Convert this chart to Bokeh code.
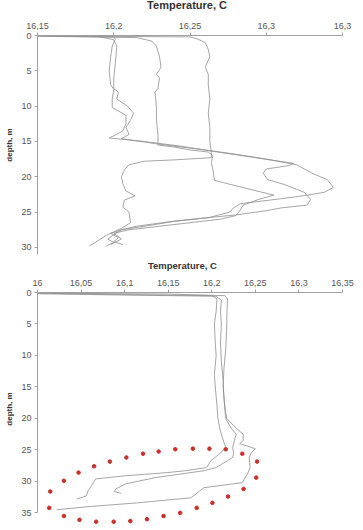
from bokeh.plotting import figure
from bokeh.layouts import column
from bokeh.models import Range1d, FixedTicker, Label
from bokeh.embed import file_html
from bokeh.resources import INLINE

# ---------------- data: top chart (temperature C, depth m) ----------------
top_t1_temp = [16.15, 16.20, 16.201, 16.199, 16.198, 16.197, 16.198, 16.200, 16.199, 16.199, 16.204, 16.208,
               16.208, 16.206, 16.200, 16.197, 16.220, 16.245, 16.262, 16.290, 16.318, 16.315, 16.300, 16.298,
               16.301, 16.312, 16.325, 16.329, 16.327, 16.310, 16.300, 16.280, 16.256, 16.235, 16.215, 16.205,
               16.198, 16.203, 16.200, 16.206]
top_t1_depth = [0.05, 0.2, 0.5, 1.5, 3, 5, 7, 7.6, 9, 10.2, 10.8, 11.3,
                12.5, 13.5, 14.2, 14.5, 15, 15.7, 16.3, 17.2, 18.1, 18.4, 18.9, 19.5,
                20.4, 21.1, 22.2, 23.2, 24, 24.4, 24.8, 25.4, 25.9, 26.4, 27, 27.5,
                28, 28.6, 29.2, 29.6]

top_t2_temp = [16.19, 16.200, 16.202, 16.201, 16.200, 16.200, 16.203, 16.202, 16.209, 16.213, 16.211, 16.208,
               16.210, 16.205, 16.230, 16.260, 16.280, 16.300, 16.320, 16.330, 16.340, 16.344, 16.338, 16.327,
               16.310, 16.283, 16.278, 16.276, 16.262, 16.240, 16.220, 16.205, 16.200, 16.196, 16.200, 16.195]
top_t2_depth = [0.15, 0.6, 1.5, 4, 6, 7.5, 8, 9, 10, 11, 12, 13,
                14, 14.6, 15.4, 16.2, 16.8, 17.5, 18.3, 19.5, 20.4, 21.5, 22.2, 22.6,
                23.1, 23.8, 24.5, 25, 25.8, 26.3, 27, 27.5, 28.2, 28.8, 29.3, 29.8]

top_t3_temp = [16.15, 16.215, 16.225, 16.228, 16.230, 16.231, 16.228, 16.230, 16.229, 16.227, 16.228, 16.228,
               16.229, 16.229, 16.240, 16.250, 16.262, 16.265, 16.264, 16.265, 16.266, 16.275, 16.290, 16.305,
               16.295, 16.285, 16.282, 16.280, 16.270, 16.250, 16.230, 16.210, 16.200, 16.205, 16.198]
top_t3_depth = [0.1, 0.3, 0.8, 1.5, 3, 4.5, 5.5, 6, 7.5, 8, 10, 12,
                14, 15.5, 15.8, 16.2, 16.5, 17, 18, 19, 20.5, 21, 21.8, 22.6,
                23.2, 24, 25, 25.5, 26, 26.5, 27, 27.5, 28, 28.8, 29.6]

top_t4_temp = [16.15, 16.250, 16.255, 16.260, 16.262, 16.263, 16.260, 16.262, 16.262, 16.263, 16.262, 16.263,
               16.263, 16.264, 16.264, 16.240, 16.220, 16.210, 16.207, 16.205, 16.206, 16.208, 16.214, 16.207,
               16.206, 16.210, 16.211, 16.205, 16.200, 16.195, 16.190, 16.184]
top_t4_depth = [0.05, 0.2, 0.5, 1, 2, 3, 4.5, 5.5, 7, 9, 11, 13,
                15, 16.5, 17.3, 17.6, 17.8, 18.3, 19, 20, 21, 22, 22.7, 23.3,
                24.3, 25, 26.5, 27.3, 27.8, 28.3, 29, 29.8]

# ---------------- data: bottom chart ----------------
bot_b1_temp = [16.0, 16.08, 16.200, 16.206, 16.205, 16.203, 16.204, 16.205, 16.203, 16.204, 16.206, 16.207,
               16.209, 16.212, 16.216, 16.210, 16.199, 16.194, 16.170, 16.149, 16.101, 16.067, 16.064, 16.062,
               16.058, 16.056, 16.045]
bot_b1_depth = [0.1, 0.3, 0.5, 1, 3, 5, 8, 10, 13, 15, 18, 20,
                21.5, 23, 24.6, 25.5, 26.7, 27.8, 28.3, 28.6, 29.1, 29.6, 30.2, 30.7,
                31.5, 32.3, 32.8]

bot_b2_temp = [16.0, 16.1, 16.205, 16.211, 16.210, 16.211, 16.210, 16.211, 16.213, 16.214, 16.216, 16.222,
               16.228, 16.226, 16.224, 16.225, 16.224, 16.205, 16.191, 16.135, 16.101, 16.090, 16.088, 16.093,
               16.096]
bot_b2_depth = [0.2, 0.4, 0.6, 1.2, 3, 5, 8, 11, 14, 17, 20, 21.5,
                22.5, 23.5, 24.6, 25.5, 26.2, 27.8, 28.3, 29.4, 30.4, 31.2, 31.6, 31.8,
                31.9]

bot_b3_temp = [16.0, 16.15, 16.215, 16.218, 16.2175, 16.217, 16.216, 16.214, 16.213, 16.215, 16.217, 16.230,
               16.236, 16.236, 16.232, 16.250, 16.245, 16.243, 16.244, 16.241, 16.235, 16.191, 16.176, 16.115,
               16.059, 16.022]
bot_b3_depth = [0.1, 0.25, 0.5, 1, 3, 6, 9, 12, 15, 18, 20, 21.8,
                22.5, 23.5, 24, 24.8, 25.5, 26.2, 27.8, 28.8, 30.2, 31, 32.6, 33.4,
                34, 34.5]

dots_temp = [16.216, 16.235, 16.252, 16.251, 16.2365, 16.2186, 16.2007, 16.1827, 16.1637, 16.1446,
             16.1256, 16.1065, 16.0874, 16.0673, 16.0482, 16.0303, 16.0135, 16.0146, 16.0303, 16.0471,
             16.0650, 16.0830, 16.1020, 16.1211, 16.1390, 16.1581, 16.1783, 16.1973]
dots_depth = [24.9, 25.6, 26.85, 29.4, 31.2, 32.4, 33.4, 34.2, 35.0, 35.5,
              36.0, 36.3, 36.4, 36.4, 36.1, 35.5, 34.2, 31.6, 29.9, 28.6,
              27.6, 26.85, 26.2, 25.6, 25.25, 24.9, 24.8, 24.8]

top_ticks = [16.15, 16.2, 16.25, 16.3, 16.35]
top_tick_labels = ["16,15", "16,2", "16,25", "16,3", "16,3"]
bot_ticks = [16.0, 16.05, 16.1, 16.15, 16.2, 16.25, 16.3, 16.35]
bot_tick_labels = ["16", "16,05", "16,1", "16,15", "16,2", "16,25", "16,3", "16,35"]
top_depth_ticks = [0, 5, 10, 15, 20, 25, 30]
bot_depth_ticks = [0, 5, 10, 15, 20, 25, 30, 35]
title_text = "Temperature, C"

FONT = "Liberation Sans"
LINE = "#8e8e8e"


def title_fig(height, x_center, y_center, size):
    t = figure(width=363, height=height, x_range=Range1d(0, 363), y_range=Range1d(0, height),
               x_axis_type=None, y_axis_type=None, output_backend="svg", toolbar_location=None,
               min_border=0, min_border_left=0, min_border_right=0, min_border_top=0, min_border_bottom=0,
               outline_line_color=None, background_fill_color="white", border_fill_color="white")
    t.grid.visible = False
    t.add_layout(Label(x=x_center, y=height - y_center, text=title_text, text_font=FONT,
                       text_font_size=size, text_font_style="bold", text_color="#333333",
                       text_align="center", text_baseline="middle"))
    return t


def style(p, xticks, xlabels, yticks):
    p.grid.visible = False
    p.outline_line_color = None
    for ax in (p.xaxis[0], p.yaxis[0]):
        ax.axis_line_color = "#a0a0a0"
        ax.major_tick_line_color = "#a0a0a0"
        ax.major_tick_in = 0
        ax.major_tick_out = 3
        ax.minor_tick_line_color = None
        ax.major_label_text_font = FONT
        ax.major_label_text_font_size = "9px"
        ax.major_label_text_color = "#555555"
        ax.major_label_standoff = 3
    p.xaxis[0].major_label_standoff = 4
    p.xaxis[0].ticker = FixedTicker(ticks=xticks)
    p.xaxis[0].major_label_overrides = {t: l for t, l in zip(xticks, xlabels)}
    p.yaxis[0].ticker = FixedTicker(ticks=yticks)
    p.yaxis[0].axis_label = "depth, m"
    p.yaxis[0].axis_label_text_font = FONT
    p.yaxis[0].axis_label_text_font_size = "8px"
    p.yaxis[0].axis_label_text_font_style = "bold"
    p.yaxis[0].axis_label_text_color = "#333333"
    p.yaxis[0].axis_label_standoff = 4


top_title = title_fig(12, 178, 4.5, "11px")

top = figure(width=363, height=248, x_range=Range1d(16.15, 16.35), y_range=Range1d(31, 0),
             x_axis_location="above", output_backend="svg", toolbar_location=None,
             min_border_left=37, min_border_right=17, min_border_top=23, min_border_bottom=6,
             background_fill_color="white", border_fill_color="white")
style(top, top_ticks, top_tick_labels, top_depth_ticks)
for t, d in [(top_t1_temp, top_t1_depth), (top_t2_temp, top_t2_depth),
             (top_t3_temp, top_t3_depth), (top_t4_temp, top_t4_depth)]:
    top.line(t, d, line_color=LINE, line_width=0.8)

bot_title = title_fig(11, 172.5, 3.8, "9.5px")

bot = figure(width=363, height=259, x_range=Range1d(16.0, 16.35), y_range=Range1d(37, 0),
             x_axis_location="above", output_backend="svg", toolbar_location=None,
             min_border_left=30, min_border_right=21, min_border_top=21, min_border_bottom=5,
             background_fill_color="white", border_fill_color="white")
style(bot, bot_ticks, bot_tick_labels, bot_depth_ticks)
bot.yaxis[0].bounds = (0, 35)
for t, d in [(bot_b1_temp, bot_b1_depth), (bot_b2_temp, bot_b2_depth), (bot_b3_temp, bot_b3_depth)]:
    bot.line(t, d, line_color=LINE, line_width=0.8)
bot.scatter(dots_temp, dots_depth, size=3.6, fill_color="#c8312b", line_color="#c8312b")

layout = column(top_title, top, bot_title, bot, spacing=0)
open("out.html", "w").write(file_html(layout, INLINE))
